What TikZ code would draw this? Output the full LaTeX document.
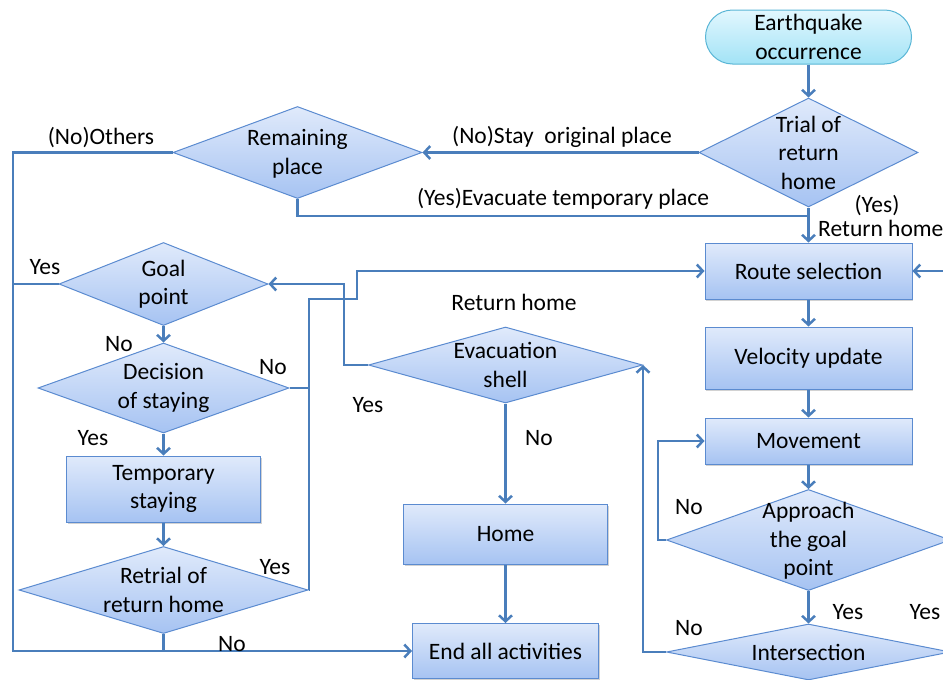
\documentclass[tikz,border=0pt]{standalone}
\usepackage{fontspec}
\setmainfont{Carlito}
\usetikzlibrary{shapes.geometric,arrows.meta,shadows}
\definecolor{ln}{HTML}{4A7EBB}
\definecolor{bd}{HTML}{5B8BD0}
\definecolor{ft}{HTML}{E0EAFB}
\definecolor{fb}{HTML}{A6C3F2}
\definecolor{ct}{HTML}{E2F7FE}
\definecolor{cb}{HTML}{A2E3F6}
\definecolor{cbd}{HTML}{5AB6D6}
\begin{document}
\begin{tikzpicture}[x=1pt,y=-1pt,
  every node/.style={font=\fontsize{23.5}{28.5}\selectfont, text=black},
  box/.style={draw=bd, line width=1pt, top color=ft, bottom color=fb, inner sep=0pt, align=center,
    drop shadow={shadow xshift=1.2pt, shadow yshift=-1.8pt, opacity=0.25, fill=black!70}},
  startbox/.style={draw=cbd, line width=1pt, top color=ct, bottom color=cb, inner sep=0pt, align=center, rounded corners=27pt},
  dia/.style={diamond, draw=bd, line width=1pt, top color=ft, bottom color=fb, inner sep=0pt},
  txt/.style={inner sep=0pt, align=center},
  conn/.style={draw=ln, line width=2.5pt},
  arr/.style={conn, -{Straight Barb[length=6pt,width=13pt]}}]
\useasboundingbox (0,0) rectangle (943,680);
\clip (0,0) rectangle (943,680);

% ---- nodes ----
\node[startbox, minimum width=206pt, minimum height=54pt] (eq) at (808.5,37) {Earthquake\\occurrence};
\node[dia, minimum width=219pt, minimum height=109pt] (trial) at (808.5,152.5) {};
\node[txt] (trialt) at (trial) {Trial of\\return\\home};
\node[dia, minimum width=249pt, minimum height=92pt] (remain) at (297.5,152.5) {};
\node[txt] (remaint) at (297.5,154) {Remaining\\place};

\node[box, minimum width=207pt, minimum height=56pt] (route) at (808.5,271) {Route selection};
\node[box, minimum width=207pt, minimum height=62pt] (velo) at (808.5,358) {Velocity update};
\node[box, minimum width=207pt, minimum height=46pt] (move) at (808.5,441) {Movement};
\node[dia, minimum width=284pt, minimum height=101pt] (appr) at (808.5,540) {};
\node[txt] (apprt) at (808.5,541) {Approach\\the goal\\point};
\node[dia, minimum width=284pt, minimum height=56pt] (inter) at (808.5,652) {};
\node[txt] (intert) at (inter) {Intersection};

\node[dia, minimum width=209pt, minimum height=83pt] (goal) at (163.5,284) {};
\node[txt] (goalt) at (goal) {Goal\\point};
\node[dia, minimum width=251pt, minimum height=90pt] (deci) at (163.5,388) {};
\node[txt] (decit) at (deci) {Decision\\of staying};
\node[box, minimum width=194pt, minimum height=66pt] (temp) at (163.5,489) {Temporary\\staying};
\node[dia, minimum width=289pt, minimum height=87pt] (retr) at (163.5,590) {};
\node[txt] (retrt) at (retr) {Retrial of\\return home};

\node[dia, minimum width=274pt, minimum height=76pt] (evac) at (505.5,365) {};
\node[txt] (evact) at (evac) {Evacuation\\shell};
\node[box, minimum width=204pt, minimum height=60pt] (home) at (505.5,534) {Home};
\node[box, minimum width=186pt, minimum height=55pt] (end) at (505.5,651) {End all activities};

% ---- helper coordinates ----
\coordinate (j1) at (808.5,216);
\coordinate (cL) at (13,651);
\coordinate (r1) at (309,299);
\coordinate (r2) at (357,271);
\coordinate (e1) at (344,284);
\coordinate (a1) at (658,441);
\coordinate (rr) at (965,271);

% ---- connectors ----
\draw[arr] (eq.south) -- (trial.north);
\draw[arr] (trial.west) -- (remain.east);
\draw[conn] (remain.south) |- (j1);
\draw[arr] (trial.south) -- (route.north);
\draw[arr] (remain.west) -| (cL) -- (end.west);
\draw[conn] (goal.west) -- (goal.west -| cL);
\draw[arr] (goal.south) -- (deci.north);
\draw[arr] (deci.south) -- (temp.north);
\draw[arr] (temp.south) -- (retr.north);
\draw[conn] (retr.south) -- (retr.south |- cL);
\draw[conn] (deci.east) -- (deci.east -| r1);
\draw[arr] (retr.east) -| (r1) -| (r2) -- (route.west);
\draw[arr] (evac.west) -| (e1) -- (goal.east);
\draw[arr] (evac.south) -- (home.north);
\draw[arr] (home.south) -- (end.north);
\draw[arr] (inter.west) -| (evac.east);
\draw[arr] (route.south) -- (velo.north);
\draw[arr] (velo.south) -- (move.north);
\draw[arr] (move.south) -- (appr.north);
\draw[arr] (appr.south) -- (inter.north);
\draw[arr] (appr.west) -| (a1) -- (move.west);
\draw[arr] (inter.east) -| (rr) -- (route.east);

% ---- labels ----
\node[txt] (l1) at (562,137) {(No)Stay\ \ original place};
\node[txt] (l2) at (563,199) {(Yes)Evacuate temporary place};
\node[txt] (l3) at (101,138) {(No)Others};
\node[txt] (l4) at (877,206) {(Yes)};
\node[txt, anchor=west] (l5) at (818,228) {Return home};
\node[txt] (l6) at (45,267) {Yes};
\node[txt] (l7) at (119,344) {No};
\node[txt] (l8) at (273,367) {No};
\node[txt] (l9) at (93,438) {Yes};
\node[txt] (l10) at (275,567) {Yes};
\node[txt] (l11) at (232,644) {No};
\node[txt] (l12) at (514,302) {Return home};
\node[txt] (l13) at (368,405) {Yes};
\node[txt] (l14) at (539,438) {No};
\node[txt] (l15) at (689,507) {No};
\node[txt] (l16) at (689,628) {No};
\node[txt] (l17) at (848,612) {Yes};
\node[txt] (l18) at (925,612) {Yes};
\end{tikzpicture}
\end{document}
